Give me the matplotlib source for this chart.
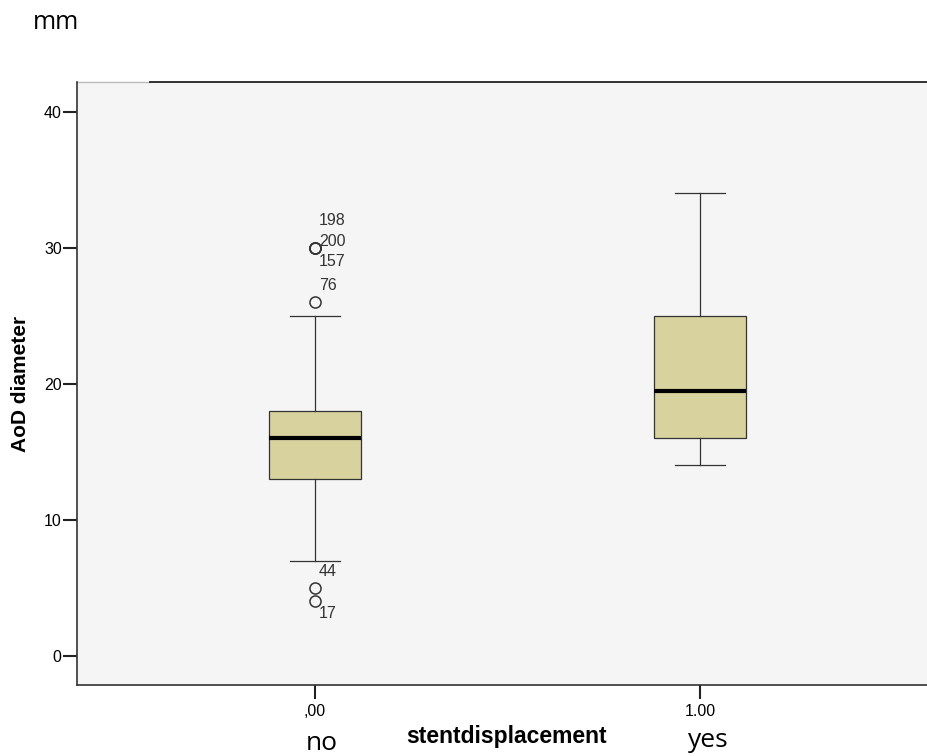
import matplotlib.pyplot as plt

# group labels and box statistics
groups = [",00", "1.00"]
group_names = ["no", "yes"]
q1 = [13, 16]
med = [16, 19.5]
q3 = [18, 25]
whislo = [7, 14]
whishi = [25, 34]
fliers = [[30, 30, 30, 26, 5, 4], []]

# case labels beside the outliers of the first group
case_ids = ["198", "200", "157", "76", "44", "17"]
case_y = [32.0, 30.5, 29.0, 27.2, 6.2, 3.1]

box_color = "#d8d29e"
bg_color = "#f5f5f5"

fig = plt.figure(figsize=(9.28, 7.56), dpi=100)
ax = fig.add_axes([77 / 928, 1 - 685 / 756, (938 - 77) / 928, (685 - 82) / 756])
ax.set_facecolor(bg_color)

stats = []
for i in range(len(groups)):
    stats.append(dict(q1=q1[i], med=med[i], q3=q3[i], whislo=whislo[i],
                      whishi=whishi[i], fliers=fliers[i]))

ax.bxp(stats, positions=range(len(groups)), widths=0.24, patch_artist=True,
       boxprops=dict(facecolor=box_color, edgecolor="#333333", linewidth=0.9),
       medianprops=dict(color="black", linewidth=3),
       whiskerprops=dict(color="#333333", linewidth=0.9),
       capprops=dict(color="#333333", linewidth=0.9),
       capwidths=0.13,
       flierprops=dict(marker="o", markersize=8, markerfacecolor="none",
                       markeredgecolor="#333333", markeredgewidth=1.1))

for cid, cy in zip(case_ids, case_y):
    ax.text(0.01, cy, cid, fontsize=11.5, family="Liberation Sans",
            color="#333333", ha="left", va="center")

ax.set_xlim(-0.618, 1.618)
ax.set_ylim(-2.15, 42.2)
ax.set_yticks([0, 10, 20, 30, 40])
ax.set_xticks(range(len(groups)))
ax.set_xticklabels(groups)
ax.tick_params(axis="both", direction="out", length=10, width=1.5,
               labelsize=11.5, color="#222222")
for lbl in ax.get_xticklabels() + ax.get_yticklabels():
    lbl.set_family("Liberation Sans")
ax.tick_params(axis="y", pad=1)
ax.tick_params(axis="x", pad=4)

for side in ["left", "bottom"]:
    ax.spines[side].set_color("#333333")
    ax.spines[side].set_linewidth(1.2)
ax.spines["right"].set_visible(False)
ax.spines["top"].set_visible(False)
split = (150 - 77) / (938 - 77)
ax.plot([0, split], [1, 1], color="#bbbbbb", lw=1.0,
        transform=ax.transAxes, clip_on=False)
ax.plot([split, 1], [1, 1], color="#222222", lw=1.3,
        transform=ax.transAxes, clip_on=False)

ax.set_ylabel("AoD diameter", fontsize=15, fontweight="bold",
              family="Liberation Sans", labelpad=10)

fig.text(507 / 928, 1 - 743 / 756, "stentdisplacement", fontsize=16.5,
         fontweight="bold", family="Liberation Sans", ha="center",
         va="baseline")
fig.text(33 / 928, 1 - 29 / 756, "mm", fontsize=18, family="Open Sans",
         ha="left", va="baseline")
fig.text(322 / 928, 1 - 750 / 756, group_names[0], fontsize=19,
         family="Open Sans", ha="center", va="baseline")
fig.text(708 / 928, 1 - 747 / 756, group_names[1], fontsize=19,
         family="Open Sans", ha="center", va="baseline")

fig.savefig("out.png", dpi=100, facecolor="white")
